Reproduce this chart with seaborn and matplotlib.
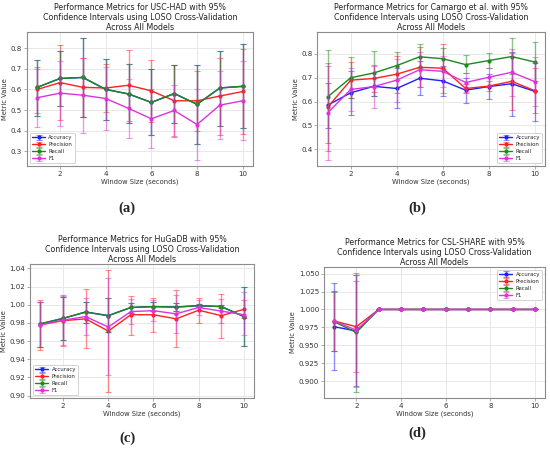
import matplotlib
matplotlib.use("Agg")
import matplotlib.pyplot as plt
import seaborn as sns
import numpy as np
import pandas as pd
from matplotlib.legend_handler import HandlerTuple

# window sizes (seconds)
window = [1, 2, 3, 4, 5, 6, 7, 8, 9, 10]
metrics = ["Accuracy", "Precision", "Recall", "F1"]
metric_colors = ["#1f1fff", "#ff2020", "#1a8a1a", "#dd33dd"]

# (a) USC-HAD
usc_acc = [0.610, 0.653, 0.658, 0.600, 0.578, 0.537, 0.580, 0.528, 0.607, 0.615]
usc_acc_lo = [0.472, 0.520, 0.468, 0.452, 0.435, 0.378, 0.438, 0.335, 0.425, 0.412]
usc_acc_hi = [0.742, 0.785, 0.847, 0.748, 0.724, 0.697, 0.720, 0.720, 0.786, 0.818]
usc_prec = [0.600, 0.633, 0.610, 0.607, 0.620, 0.593, 0.545, 0.545, 0.568, 0.590]
usc_prec_lo = [0.488, 0.450, 0.468, 0.490, 0.445, 0.440, 0.370, 0.400, 0.380, 0.383]
usc_prec_hi = [0.710, 0.815, 0.752, 0.722, 0.790, 0.743, 0.720, 0.687, 0.752, 0.795]
usc_rec = [0.610, 0.653, 0.658, 0.600, 0.578, 0.537, 0.580, 0.528, 0.607, 0.615]
usc_rec_lo = [0.472, 0.520, 0.468, 0.452, 0.435, 0.378, 0.438, 0.335, 0.425, 0.412]
usc_rec_hi = [0.742, 0.785, 0.847, 0.748, 0.724, 0.697, 0.720, 0.720, 0.786, 0.818]
usc_f1 = [0.560, 0.582, 0.572, 0.556, 0.508, 0.458, 0.498, 0.430, 0.524, 0.545]
usc_f1_lo = [0.418, 0.425, 0.388, 0.402, 0.363, 0.315, 0.375, 0.258, 0.358, 0.353]
usc_f1_hi = [0.700, 0.738, 0.752, 0.710, 0.652, 0.600, 0.620, 0.603, 0.690, 0.738]

# (b) Camargo et al.
cam_acc = [0.585, 0.637, 0.664, 0.655, 0.698, 0.687, 0.648, 0.663, 0.675, 0.643]
cam_acc_lo = [0.490, 0.545, 0.625, 0.572, 0.628, 0.625, 0.593, 0.613, 0.540, 0.520]
cam_acc_hi = [0.680, 0.728, 0.700, 0.740, 0.770, 0.750, 0.700, 0.715, 0.810, 0.760]
cam_prec = [0.577, 0.690, 0.697, 0.715, 0.744, 0.740, 0.655, 0.665, 0.685, 0.646]
cam_prec_lo = [0.393, 0.615, 0.640, 0.638, 0.660, 0.637, 0.635, 0.645, 0.565, 0.553]
cam_prec_hi = [0.760, 0.765, 0.752, 0.790, 0.830, 0.840, 0.675, 0.685, 0.805, 0.740]
cam_rec = [0.620, 0.700, 0.720, 0.751, 0.788, 0.780, 0.755, 0.772, 0.789, 0.766]
cam_rec_lo = [0.425, 0.615, 0.625, 0.690, 0.740, 0.735, 0.720, 0.740, 0.715, 0.685]
cam_rec_hi = [0.815, 0.787, 0.812, 0.810, 0.840, 0.825, 0.795, 0.805, 0.865, 0.848]
cam_f1 = [0.553, 0.651, 0.663, 0.690, 0.734, 0.727, 0.680, 0.702, 0.723, 0.684]
cam_f1_lo = [0.355, 0.560, 0.575, 0.600, 0.660, 0.660, 0.640, 0.665, 0.625, 0.583]
cam_f1_hi = [0.750, 0.740, 0.750, 0.780, 0.810, 0.790, 0.720, 0.740, 0.820, 0.785]

# (c) HuGaDB
hug_acc = [0.979, 0.985, 0.992, 0.988, 0.997, 0.998, 0.9975, 0.999, 0.998, 0.987]
hug_acc_lo = [0.954, 0.961, 0.980, 0.970, 0.991, 0.993, 0.993, 0.997, 0.996, 0.955]
hug_acc_hi = [1.003, 1.009, 1.003, 1.007, 1.002, 1.003, 1.002, 1.001, 1.000, 1.020]
hug_prec = [0.978, 0.9825, 0.9845, 0.971, 0.989, 0.989, 0.9845, 0.994, 0.988, 0.995]
hug_prec_lo = [0.950, 0.955, 0.952, 0.904, 0.967, 0.970, 0.953, 0.980, 0.963, 0.985]
hug_prec_hi = [1.005, 1.011, 1.017, 1.038, 1.010, 1.008, 1.016, 1.008, 1.012, 1.005]
hug_rec = [0.979, 0.985, 0.992, 0.988, 0.997, 0.998, 0.9975, 0.999, 0.998, 0.987]
hug_rec_lo = [0.954, 0.961, 0.980, 0.970, 0.991, 0.993, 0.993, 0.997, 0.996, 0.955]
hug_rec_hi = [1.003, 1.009, 1.003, 1.007, 1.002, 1.003, 1.002, 1.001, 1.000, 1.020]
hug_f1 = [0.978, 0.983, 0.987, 0.9755, 0.9925, 0.9935, 0.990, 0.997, 0.993, 0.989]
hug_f1_lo = [0.953, 0.956, 0.967, 0.923, 0.979, 0.982, 0.969, 0.989, 0.980, 0.967]
hug_f1_hi = [1.003, 1.010, 1.008, 1.029, 1.006, 1.005, 1.011, 1.005, 1.006, 1.014]

# (d) CSL-SHARE
csl_acc = [0.976, 0.970, 1.0, 1.0, 1.0, 1.0, 1.0, 1.0, 1.0, 1.0]
csl_acc_lo = [0.915, 0.893, 1.0, 1.0, 1.0, 1.0, 1.0, 1.0, 1.0, 1.0]
csl_acc_hi = [1.037, 1.048, 1.0, 1.0, 1.0, 1.0, 1.0, 1.0, 1.0, 1.0]
csl_prec = [0.984, 0.976, 1.0, 1.0, 1.0, 1.0, 1.0, 1.0, 1.0, 1.0]
csl_prec_lo = [0.942, 0.913, 1.0, 1.0, 1.0, 1.0, 1.0, 1.0, 1.0, 1.0]
csl_prec_hi = [1.026, 1.039, 1.0, 1.0, 1.0, 1.0, 1.0, 1.0, 1.0, 1.0]
csl_rec = [0.983, 0.968, 1.0, 1.0, 1.0, 1.0, 1.0, 1.0, 1.0, 1.0]
csl_rec_lo = [0.942, 0.885, 1.0, 1.0, 1.0, 1.0, 1.0, 1.0, 1.0, 1.0]
csl_rec_hi = [1.025, 1.051, 1.0, 1.0, 1.0, 1.0, 1.0, 1.0, 1.0, 1.0]
csl_f1 = [0.984, 0.971, 1.0, 1.0, 1.0, 1.0, 1.0, 1.0, 1.0, 1.0]
csl_f1_lo = [0.942, 0.892, 1.0, 1.0, 1.0, 1.0, 1.0, 1.0, 1.0, 1.0]
csl_f1_hi = [1.026, 1.048, 1.0, 1.0, 1.0, 1.0, 1.0, 1.0, 1.0, 1.0]

panels = [
    ("USC-HAD", "(a)", [(usc_acc, usc_acc_lo, usc_acc_hi), (usc_prec, usc_prec_lo, usc_prec_hi),
                        (usc_rec, usc_rec_lo, usc_rec_hi), (usc_f1, usc_f1_lo, usc_f1_hi)],
     "lower left", None),
    ("Camargo et al.", "(b)", [(cam_acc, cam_acc_lo, cam_acc_hi), (cam_prec, cam_prec_lo, cam_prec_hi),
                               (cam_rec, cam_rec_lo, cam_rec_hi), (cam_f1, cam_f1_lo, cam_f1_hi)],
     "lower right", None),
    ("HuGaDB", "(c)", [(hug_acc, hug_acc_lo, hug_acc_hi), (hug_prec, hug_prec_lo, hug_prec_hi),
                       (hug_rec, hug_rec_lo, hug_rec_hi), (hug_f1, hug_f1_lo, hug_f1_hi)],
     "lower left", "%.2f"),
    ("CSL-SHARE", "(d)", [(csl_acc, csl_acc_lo, csl_acc_hi), (csl_prec, csl_prec_lo, csl_prec_hi),
                          (csl_rec, csl_rec_lo, csl_rec_hi), (csl_f1, csl_f1_lo, csl_f1_hi)],
     "upper right", "%.3f"),
]

# axes rectangles in figure fractions, picked to sit like the reference
rects = [
    [0.049, 0.630, 0.411, 0.298],
    [0.577, 0.630, 0.414, 0.298],
    [0.055, 0.1136, 0.407, 0.298],
    [0.589, 0.1136, 0.402, 0.292],
]
label_pos = [(0.231, 0.537), (0.758, 0.537), (0.231, 0.025), (0.758, 0.036)]
title_spacing = [1.2, 1.2, 1.15, 1.15]
title_pad = [0.5, 0.5, 1.5, 1.5]

sns.set_style("whitegrid", {"axes.edgecolor": "#8c8c8c", "grid.color": "#e4e4e4",
                            "xtick.bottom": True, "ytick.left": True})
plt.rcParams["font.family"] = ["DejaVu Sans"]

fig = plt.figure(figsize=(5.5, 4.49), dpi=100)

for (name, tag, series, loc, fmt), rect, lpos, tsp, tpad in zip(panels, rects, label_pos,
                                                                title_spacing, title_pad):
    ax = fig.add_axes(rect)
    handles = []
    for metric, color, (vals, lo, hi) in zip(metrics, metric_colors, series):
        df = pd.DataFrame({"window": window, "value": vals})
        sns.lineplot(data=df, x="window", y="value", ax=ax, color=color, marker="o",
                     markersize=3, markeredgewidth=0, linewidth=1.0, legend=False)
        line = ax.lines[-1]
        yerr = [np.array(vals) - np.array(lo), np.array(hi) - np.array(vals)]
        eb = ax.errorbar(window, vals, yerr=yerr, fmt="none", ecolor=color, alpha=0.5,
                         elinewidth=1.0, capsize=2.2, capthick=0.8)
        handles.append((line, eb))
    ax.set_title(f"Performance Metrics for {name} with 95%\nConfidence Intervals using LOSO Cross-Validation\nAcross All Models",
                 fontsize=5.7, pad=tpad, linespacing=tsp, color="#222222")
    ax.set_xlabel("Window Size (seconds)", fontsize=4.9, labelpad=1, color="#333333")
    ax.set_ylabel("Metric Value", fontsize=4.9, labelpad=1.8, color="#333333")
    ax.set_xticks([2, 4, 6, 8, 10])
    ax.tick_params(labelsize=5.1, length=2, width=0.5, color="#8c8c8c", pad=1.5, labelcolor="#333333")
    if fmt:
        ax.yaxis.set_major_formatter(matplotlib.ticker.FormatStrFormatter(fmt))
    for sp in ax.spines.values():
        sp.set_linewidth(0.8)
    ax.grid(True, linewidth=0.6)
    leg = ax.legend(handles, metrics, loc=loc, fontsize=3.9, frameon=True,
                    handler_map={tuple: HandlerTuple(ndivide=1)}, handlelength=2.4,
                    handletextpad=0.6, borderpad=0.45, labelspacing=0.35, framealpha=1)
    leg.get_frame().set_edgecolor("#cccccc")
    leg.get_frame().set_linewidth(0.6)
    fig.text(lpos[0], lpos[1], tag, ha="center", va="center", fontsize=10.5,
             family="Liberation Serif", fontweight="bold")

fig.savefig("out.png", dpi=100)
